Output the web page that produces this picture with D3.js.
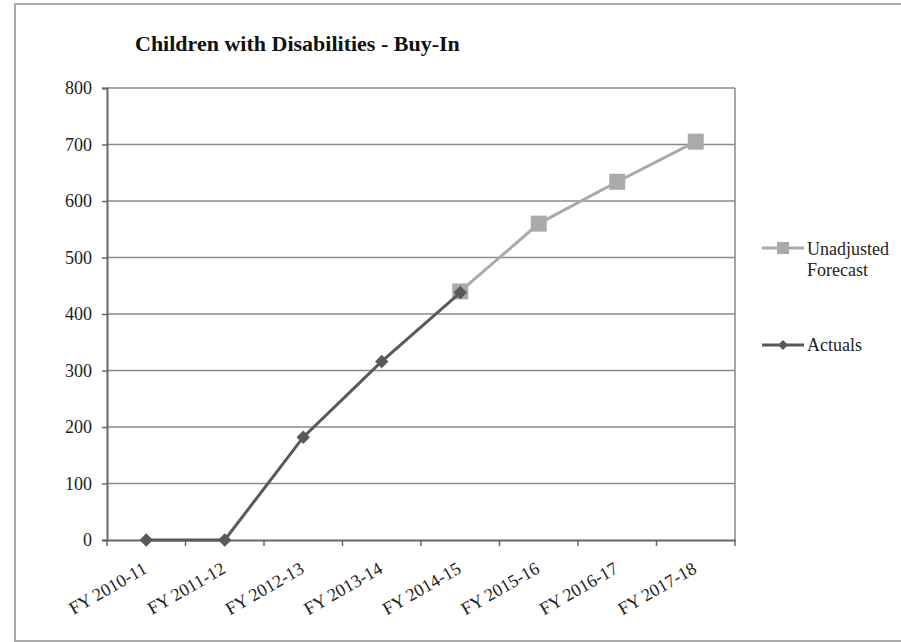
<!DOCTYPE html>
<html><head><meta charset="utf-8">
<script src="https://cdn.jsdelivr.net/npm/d3@7/dist/d3.min.js"></script>
<style>body{margin:0;background:#fff}svg{display:block}</style>
</head><body>
<svg id="c" width="901" height="642"></svg>
<script>
const categories = ["FY 2010-11","FY 2011-12","FY 2012-13","FY 2013-14","FY 2014-15","FY 2015-16","FY 2016-17","FY 2017-18"];
const actuals = [0, 0, 182, 316, 438, null, null, null];
const forecast = [null, null, null, null, 440, 560, 634, 705];
const yTicks = [0,100,200,300,400,500,600,700,800];
const title = "Children with Disabilities - Buy-In";

const svg = d3.select("#c");
const font = "'Liberation Serif','Times New Roman',serif";
const m = {l:107, t:88, r:735, b:540};

// outer frame
svg.append("rect").attr("x",15).attr("y",4).attr("width",900).attr("height",637)
  .attr("fill","#fff").attr("stroke","#aaa").attr("stroke-width",2);

const x = d3.scaleBand().domain(categories).range([m.l, m.r]);
const y = d3.scaleLinear().domain([0,800]).range([m.b, m.t]);

// gridlines
svg.append("g").selectAll("line").data(yTicks.filter(d=>d>0)).join("line")
  .attr("x1",m.l).attr("x2",m.r).attr("y1",d=>y(d)).attr("y2",d=>y(d))
  .attr("stroke","#8a8a8a").attr("stroke-width",1.5);
svg.append("line").attr("x1",m.r).attr("x2",m.r).attr("y1",m.t).attr("y2",m.b)
  .attr("stroke","#8a8a8a").attr("stroke-width",1.5);

// y axis
const ya = svg.append("g").attr("transform",`translate(${m.l},0)`)
  .call(d3.axisLeft(y).tickValues(yTicks).tickSize(5).tickPadding(10));
ya.select(".domain").attr("stroke","#666").attr("stroke-width",2);
ya.selectAll(".tick line").attr("stroke","#666").attr("stroke-width",1.5);
ya.selectAll("text").attr("font-family",font).attr("font-size",18).attr("fill","#222");

// x axis
const xa = svg.append("g").attr("transform",`translate(0,${m.b})`)
  .call(d3.axisBottom(x).tickSize(0).tickSizeOuter(0));
xa.select(".domain").attr("stroke","#666").attr("stroke-width",2);
xa.selectAll(".tick line").remove();
xa.selectAll(".tick text")
  .attr("font-family",font).attr("font-size",18).attr("fill","#222")
  .attr("text-anchor","end").attr("dy",0).attr("y",0)
  .attr("transform","translate(2,32) rotate(-30)");
const edges = categories.map(c=>x(c)).concat([m.r]);
svg.append("g").selectAll("line").data(edges).join("line")
  .attr("x1",d=>d).attr("x2",d=>d).attr("y1",m.b).attr("y2",m.b+6)
  .attr("stroke","#666").attr("stroke-width",1.5);

const cx = c => x(c) + x.bandwidth()/2;
const fcColor = "#aaaaaa", acColor = "#595959";

const fData = categories.map((c,i)=>({c, v:forecast[i]})).filter(d=>d.v!=null);
const aData = categories.map((c,i)=>({c, v:actuals[i]})).filter(d=>d.v!=null);
const line = d3.line().x(d=>cx(d.c)).y(d=>y(d.v));

svg.append("path").datum(fData).attr("d",line).attr("fill","none")
  .attr("stroke",fcColor).attr("stroke-width",3);
svg.append("g").selectAll("rect").data(fData).join("rect")
  .attr("x",d=>cx(d.c)-8).attr("y",d=>y(d.v)-8).attr("width",16).attr("height",16)
  .attr("fill",fcColor);

svg.append("path").datum(aData).attr("d",line).attr("fill","none")
  .attr("stroke",acColor).attr("stroke-width",3);
svg.append("g").selectAll("path").data(aData).join("path")
  .attr("d",d3.symbol().type(d3.symbolSquare).size(90))
  .attr("transform",d=>`translate(${cx(d.c)},${y(d.v)}) rotate(45)`)
  .attr("fill",acColor);

// title
svg.append("text").attr("x",135).attr("y",51).text(title)
  .attr("font-family",font).attr("font-size",22).attr("font-weight","bold").attr("fill","#111");

// legend
const lg = svg.append("g").attr("font-family",font).attr("font-size",18).attr("fill","#222");
lg.append("line").attr("x1",762).attr("x2",804).attr("y1",248).attr("y2",248)
  .attr("stroke",fcColor).attr("stroke-width",3);
lg.append("rect").attr("x",777).attr("y",242).attr("width",12).attr("height",12).attr("fill",fcColor);
lg.append("text").attr("x",807).attr("y",255).text("Unadjusted");
lg.append("text").attr("x",807).attr("y",276).text("Forecast");
lg.append("line").attr("x1",762).attr("x2",804).attr("y1",345).attr("y2",345)
  .attr("stroke",acColor).attr("stroke-width",3);
lg.append("path").attr("d",d3.symbol().type(d3.symbolSquare).size(50)())
  .attr("transform","translate(783,345) rotate(45)").attr("fill",acColor);
lg.append("text").attr("x",807).attr("y",351).text("Actuals");
</script>
</body></html>
